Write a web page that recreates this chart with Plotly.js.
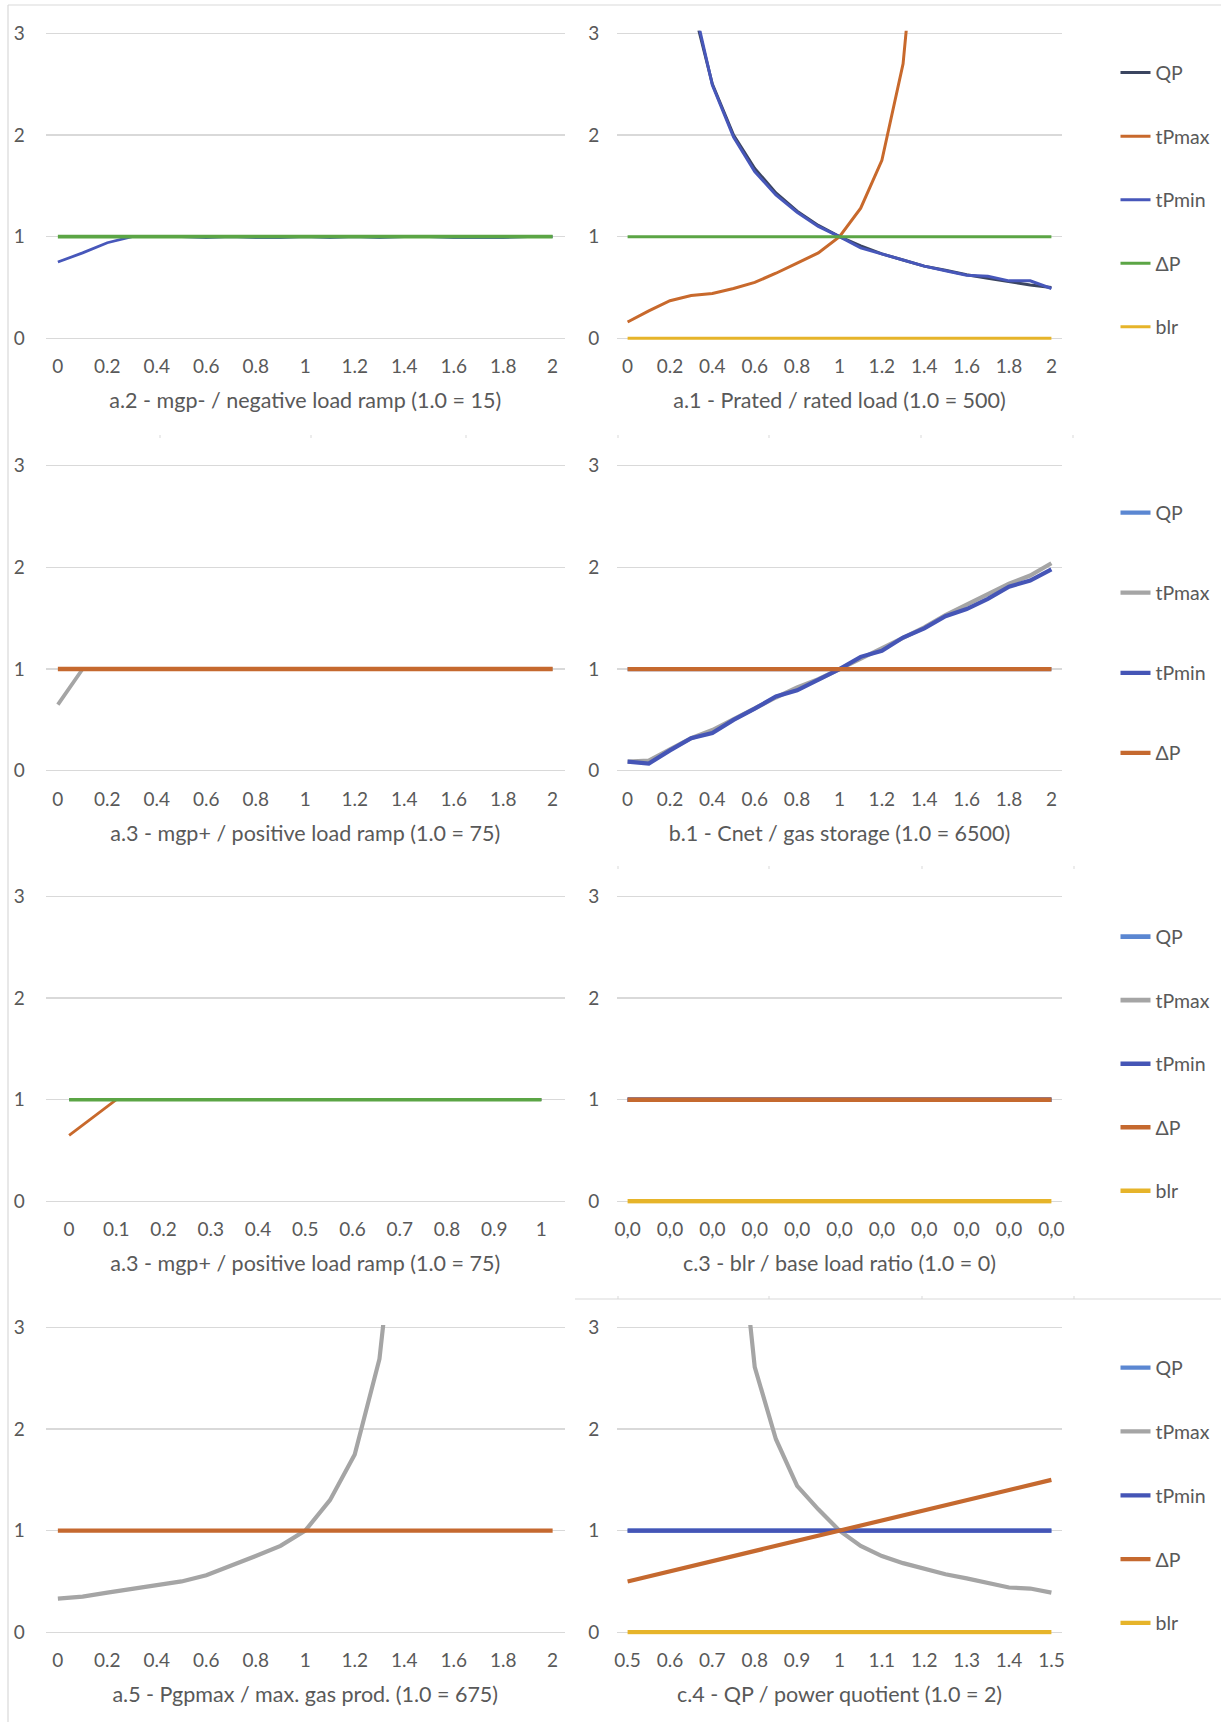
<!DOCTYPE html>
<html>
<head>
<meta charset="utf-8">
<script src="https://cdn.plot.ly/plotly-3.0.1.min.js"></script>
<style>html,body{margin:0;padding:0;background:#fff;}</style>
</head>
<body>
<div id="chart" style="width:1221px;height:1722px;"></div>
<script>
// ---------------- DATA ----------------
// categories
const x0to2 = [0, 0.1, 0.2, 0.3, 0.4, 0.5, 0.6, 0.7, 0.8, 0.9, 1, 1.1, 1.2, 1.3, 1.4, 1.5, 1.6, 1.7, 1.8, 1.9, 2];
const x0to1 = [0, 0.1, 0.2, 0.3, 0.4, 0.5, 0.6, 0.7, 0.8, 0.9, 1];
const xBlrIdx = [0, 1, 2, 3, 4, 5, 6, 7, 8, 9, 10, 11, 12, 13, 14, 15, 16, 17, 18, 19, 20];
const xQP = [0.5, 0.55, 0.6, 0.65, 0.7, 0.75, 0.8, 0.85, 0.9, 0.95, 1, 1.05, 1.1, 1.15, 1.2, 1.25, 1.3, 1.35, 1.4, 1.45, 1.5];

// tick labels
const ticks0to2 = [0, 0.2, 0.4, 0.6, 0.8, 1, 1.2, 1.4, 1.6, 1.8, 2];
const labels0to2 = ['0', '0.2', '0.4', '0.6', '0.8', '1', '1.2', '1.4', '1.6', '1.8', '2'];
const ticks0to1 = [0, 0.1, 0.2, 0.3, 0.4, 0.5, 0.6, 0.7, 0.8, 0.9, 1];
const labels0to1 = ['0', '0.1', '0.2', '0.3', '0.4', '0.5', '0.6', '0.7', '0.8', '0.9', '1'];
const ticksBlr = [0, 2, 4, 6, 8, 10, 12, 14, 16, 18, 20];
const labelsBlr = ['0,0', '0,0', '0,0', '0,0', '0,0', '0,0', '0,0', '0,0', '0,0', '0,0', '0,0'];
const ticksQP = [0.5, 0.6, 0.7, 0.8, 0.9, 1, 1.1, 1.2, 1.3, 1.4, 1.5];
const labelsQP = ['0.5', '0.6', '0.7', '0.8', '0.9', '1', '1.1', '1.2', '1.3', '1.4', '1.5'];
const yTicks = [0, 1, 2, 3];

// titles
const titleA2 = 'a.2 - mgp- / negative load ramp (1.0 = 15)';
const titleA1 = 'a.1 - Prated / rated load (1.0 = 500)';
const titleA3 = 'a.3 - mgp+ / positive load ramp (1.0 = 75)';
const titleB1 = 'b.1 - Cnet / gas storage (1.0 = 6500)';
const titleC3 = 'c.3 - blr / base load ratio (1.0 = 0)';
const titleA5 = 'a.5 - Pgpmax / max. gas prod. (1.0 = 675)';
const titleC4 = 'c.4 - QP / power quotient (1.0 = 2)';

// a.2 (top left)
const a2_tPmin = [0.75, 0.84, 0.94, 1.0, 1.0, 1.0, 0.99, 1.0, 0.99, 0.99, 1.0, 0.99, 1.0, 0.99, 1.0, 1.0, 0.99, 0.99, 0.99, 1.0, 1.0];
const a2_dP    = [1, 1, 1, 1, 1, 1, 1, 1, 1, 1, 1, 1, 1, 1, 1, 1, 1, 1, 1, 1, 1];

// a.1 (top right)
const a1_QP    = [null, null, null, 3.33, 2.5, 2.0, 1.67, 1.43, 1.25, 1.11, 1.0, 0.91, 0.83, 0.77, 0.71, 0.67, 0.625, 0.59, 0.555, 0.525, 0.5];
const a1_tPmax = [0.16, 0.27, 0.37, 0.42, 0.44, 0.49, 0.55, 0.64, 0.74, 0.84, 1.0, 1.28, 1.75, 2.70, 4.9, null, null, null, null, null, null];
const a1_tPmin = [null, null, null, 3.4, 2.49, 1.98, 1.64, 1.41, 1.24, 1.1, 1.0, 0.89, 0.83, 0.77, 0.71, 0.665, 0.62, 0.61, 0.565, 0.565, 0.49];
const a1_dP    = [1, 1, 1, 1, 1, 1, 1, 1, 1, 1, 1, 1, 1, 1, 1, 1, 1, 1, 1, 1, 1];
const a1_blr   = [0, 0, 0, 0, 0, 0, 0, 0, 0, 0, 0, 0, 0, 0, 0, 0, 0, 0, 0, 0, 0];

// a.3 (row 2 left)
const a3_tPmax = [0.65, 1, 1, 1, 1, 1, 1, 1, 1, 1, 1, 1, 1, 1, 1, 1, 1, 1, 1, 1, 1];
const a3_dP    = [1, 1, 1, 1, 1, 1, 1, 1, 1, 1, 1, 1, 1, 1, 1, 1, 1, 1, 1, 1, 1];

// b.1 (row 2 right)
const b1_QP    = [1, 1, 1, 1, 1, 1, 1, 1, 1, 1, 1, 1, 1, 1, 1, 1, 1, 1, 1, 1, 1];
const b1_tPmax = [0.09, 0.10, 0.21, 0.32, 0.40, 0.51, 0.61, 0.72, 0.82, 0.90, 1.0, 1.10, 1.21, 1.31, 1.41, 1.53, 1.63, 1.73, 1.84, 1.92, 2.04];
const b1_tPmin = [0.09, 0.07, 0.20, 0.32, 0.37, 0.50, 0.61, 0.73, 0.79, 0.89, 1.0, 1.12, 1.18, 1.31, 1.40, 1.52, 1.59, 1.69, 1.81, 1.87, 1.98];
const b1_dP    = [1, 1, 1, 1, 1, 1, 1, 1, 1, 1, 1, 1, 1, 1, 1, 1, 1, 1, 1, 1, 1];

// a.3 (row 3 left, 0..1)
const a3b_tPmax = [0.65, 1, 1, 1, 1, 1, 1, 1, 1, 1, 1];
const a3b_tPmin = [1, 1, 1, 1, 1, 1, 1, 1, 1, 1, 1];
const a3b_dP    = [1, 1, 1, 1, 1, 1, 1, 1, 1, 1, 1];

// c.3 (row 3 right)
const c3_QP    = [1, 1, 1, 1, 1, 1, 1, 1, 1, 1, 1, 1, 1, 1, 1, 1, 1, 1, 1, 1, 1];
const c3_tPmax = [1, 1, 1, 1, 1, 1, 1, 1, 1, 1, 1, 1, 1, 1, 1, 1, 1, 1, 1, 1, 1];
const c3_tPmin = [1, 1, 1, 1, 1, 1, 1, 1, 1, 1, 1, 1, 1, 1, 1, 1, 1, 1, 1, 1, 1];
const c3_dP    = [1, 1, 1, 1, 1, 1, 1, 1, 1, 1, 1, 1, 1, 1, 1, 1, 1, 1, 1, 1, 1];
const c3_blr   = [0, 0, 0, 0, 0, 0, 0, 0, 0, 0, 0, 0, 0, 0, 0, 0, 0, 0, 0, 0, 0];

// a.5 (row 4 left)
const a5_tPmax = [0.33, 0.35, 0.39, 0.43, 0.47, 0.50, 0.56, 0.65, 0.75, 0.85, 1.0, 1.30, 1.75, 2.69, 4.9, null, null, null, null, null, null];
const a5_dP    = [1, 1, 1, 1, 1, 1, 1, 1, 1, 1, 1, 1, 1, 1, 1, 1, 1, 1, 1, 1, 1];

// c.4 (row 4 right)
const c4_QP    = [1, 1, 1, 1, 1, 1, 1, 1, 1, 1, 1, 1, 1, 1, 1, 1, 1, 1, 1, 1, 1];
const c4_tPmax = [null, null, null, null, null, 4.6, 2.61, 1.90, 1.44, 1.21, 1.0, 0.85, 0.75, 0.68, 0.625, 0.57, 0.53, 0.49, 0.44, 0.43, 0.39];
const c4_tPmin = [1, 1, 1, 1, 1, 1, 1, 1, 1, 1, 1, 1, 1, 1, 1, 1, 1, 1, 1, 1, 1];
const c4_dP    = [0.5, 0.55, 0.6, 0.65, 0.7, 0.75, 0.8, 0.86, 0.9, 0.95, 1.0, 1.05, 1.1, 1.15, 1.2, 1.25, 1.3, 1.36, 1.4, 1.45, 1.5];
const c4_blr   = [0, 0, 0, 0, 0, 0, 0, 0, 0, 0, 0, 0, 0, 0, 0, 0, 0, 0, 0, 0, 0];

// ---------------- STYLE ----------------
const W = 1221, H = 1722;
const FONT = 'Lato, "Open Sans", sans-serif';
const TXT = '#595959';
const GRID = '#D9D9D9';
const TICKSIZE = 19, TITLESIZE = 21.5, LEGSIZE = 19.5;
const C1 = {QP: '#3B4560', tPmax: '#C8692C', tPmin: '#4757BA', dP: '#5BA545', blr: '#E6B42A'};
const C2 = {QP: '#5B87D2', tPmax: '#A5A5A5', tPmin: '#4555B6', dP: '#C5692F', blr: '#E6B42A'};

const LX = [45.5, 565], RX = [617, 1062];
const ROWS = [[33.3, 338.3], [465.7, 770.7], [896.5, 1201.3], [1327.5, 1632.2]];
const PAD = 0.025;

function xdom(px) { return [px[0] / W, px[1] / W]; }
function ydom(r) {
  const k = (r[1] - r[0]) / 3;
  const top = r[0] - PAD * k, bot = r[1] + PAD * k;
  return [1 - bot / H, 1 - top / H];
}

function tr(xa, ya, x, y, name, color, width, legend, show) {
  return {
    type: 'scatter', mode: 'lines', x: x, y: y, name: name,
    xaxis: xa, yaxis: ya,
    line: {color: color, width: width},
    legend: legend || 'legend', showlegend: !!show, legendgroup: (legend || 'l') + name,
    connectgaps: false, hoverinfo: 'skip'
  };
}

const data = [
  // a.2
  tr('x', 'y', x0to2, a2_tPmin, 'tPmin', C1.tPmin, 2.8),
  tr('x', 'y', x0to2, a2_dP, 'ΔP', C1.dP, 3.6),
  // a.1
  tr('x2', 'y2', x0to2, a1_QP, 'QP', C1.QP, 3, 'legend', true),
  tr('x2', 'y2', x0to2, a1_tPmax, 'tPmax', C1.tPmax, 3, 'legend', true),
  tr('x2', 'y2', x0to2, a1_tPmin, 'tPmin', C1.tPmin, 3, 'legend', true),
  tr('x2', 'y2', x0to2, a1_dP, 'ΔP', C1.dP, 3, 'legend', true),
  tr('x2', 'y2', x0to2, a1_blr, 'blr', C1.blr, 3, 'legend', true),
  // a.3 row 2
  tr('x3', 'y3', x0to2, a3_tPmax, 'tPmax', C2.tPmax, 3.8),
  tr('x3', 'y3', x0to2, a3_dP, 'ΔP', C2.dP, 4.5),
  // b.1
  tr('x4', 'y4', x0to2, b1_QP, 'QP', C2.QP, 4.2, 'legend2', true),
  tr('x4', 'y4', x0to2, b1_tPmax, 'tPmax', C2.tPmax, 4.2, 'legend2', true),
  tr('x4', 'y4', x0to2, b1_tPmin, 'tPmin', C2.tPmin, 4.2, 'legend2', true),
  tr('x4', 'y4', x0to2, b1_dP, 'ΔP', C2.dP, 4.2, 'legend2', true),
  // a.3 row 3
  tr('x5', 'y5', x0to1, a3b_tPmax, 'tPmax', C1.tPmax, 2.8),
  tr('x5', 'y5', x0to1, a3b_tPmin, 'tPmin', C2.QP, 2.8),
  tr('x5', 'y5', x0to1, a3b_dP, 'ΔP', C1.dP, 3.6),
  // c.3
  tr('x6', 'y6', xBlrIdx, c3_QP, 'QP', C2.QP, 4.6, 'legend3', true),
  tr('x6', 'y6', xBlrIdx, c3_tPmax, 'tPmax', C2.tPmax, 4.6, 'legend3', true),
  tr('x6', 'y6', xBlrIdx, c3_tPmin, 'tPmin', C2.tPmin, 4.6, 'legend3', true),
  tr('x6', 'y6', xBlrIdx, c3_dP, 'ΔP', C2.dP, 4.6, 'legend3', true),
  tr('x6', 'y6', xBlrIdx, c3_blr, 'blr', C2.blr, 4.6, 'legend3', true),
  // a.5
  tr('x7', 'y7', x0to2, a5_tPmax, 'tPmax', C2.tPmax, 4.2),
  tr('x7', 'y7', x0to2, a5_dP, 'ΔP', C2.dP, 4.4),
  // c.4
  tr('x8', 'y8', xQP, c4_QP, 'QP', C2.QP, 4.2, 'legend4', true),
  tr('x8', 'y8', xQP, c4_tPmax, 'tPmax', C2.tPmax, 4.2, 'legend4', true),
  tr('x8', 'y8', xQP, c4_tPmin, 'tPmin', C2.tPmin, 4.2, 'legend4', true),
  tr('x8', 'y8', xQP, c4_dP, 'ΔP', C2.dP, 4.2, 'legend4', true),
  tr('x8', 'y8', xQP, c4_blr, 'blr', C2.blr, 4.2, 'legend4', true)
];

function xAx(dom, anchor, range, tv, tt, title) {
  return {
    domain: xdom(dom), anchor: anchor, range: range,
    tickmode: 'array', tickvals: tv, ticktext: tt,
    showgrid: false, zeroline: false, showline: false,
    ticks: 'outside', ticklen: 8.5, tickcolor: 'rgba(0,0,0,0)',
    tickfont: {family: FONT, size: TICKSIZE, color: TXT},
    title: {text: title, font: {family: FONT, size: TITLESIZE, color: TXT}, standoff: 16.5},
    fixedrange: true
  };
}
function yAx(row, anchor, left) {
  return {
    domain: ydom(row), anchor: anchor, range: [-PAD, 3 + PAD],
    tickmode: 'array', tickvals: yTicks,
    showgrid: true, gridcolor: GRID, gridwidth: 1.3,
    zeroline: false, showline: false,
    ticks: 'outside', ticklen: left ? 16 : 13, tickcolor: 'rgba(0,0,0,0)',
    tickfont: {family: FONT, size: TICKSIZE, color: TXT},
    fixedrange: true
  };
}

function legendAt(topPx, gap) {
  return {
    x: 1115.5 / W, xanchor: 'left', y: 1 - topPx / H, yanchor: 'top',
    orientation: 'v', bgcolor: 'rgba(0,0,0,0)', borderwidth: 0,
    font: {family: FONT, size: LEGSIZE, color: TXT},
    tracegroupgap: gap, itemwidth: 30, itemclick: false, itemdoubleclick: false
  };
}

const shapes = [
  {type: 'line', xref: 'paper', yref: 'paper', x0: 8 / W, x1: 1, y0: 1 - 5 / H, y1: 1 - 5 / H, line: {color: GRID, width: 1.2}},
  {type: 'line', xref: 'paper', yref: 'paper', x0: 8 / W, x1: 8 / W, y0: 0, y1: 1 - 5 / H, line: {color: GRID, width: 1.2}},
  {type: 'line', xref: 'paper', yref: 'paper', x0: 575 / W, x1: 1, y0: 1 - 1299 / H, y1: 1 - 1299 / H, line: {color: GRID, width: 1.2}}
];
// faint leftover tick marks between the stacked charts
const markX1 = [160, 311, 466, 618, 769, 921, 1073];
const markX2 = [618, 769, 922, 1074];
markX1.forEach(function (px) {
  shapes.push({type: 'line', xref: 'paper', yref: 'paper', x0: px / W, x1: px / W, y0: 1 - 438 / H, y1: 1 - 435 / H, line: {color: GRID, width: 1}});
});
markX2.forEach(function (px) {
  shapes.push({type: 'line', xref: 'paper', yref: 'paper', x0: px / W, x1: px / W, y0: 1 - 869 / H, y1: 1 - 866 / H, line: {color: GRID, width: 1}});
  shapes.push({type: 'line', xref: 'paper', yref: 'paper', x0: px / W, x1: px / W, y0: 1 - 1299 / H, y1: 1 - 1296 / H, line: {color: GRID, width: 1}});
});

const layout = {
  width: W, height: H,
  margin: {l: 0, r: 0, t: 0, b: 0},
  paper_bgcolor: '#ffffff', plot_bgcolor: '#ffffff',
  font: {family: FONT, size: TICKSIZE, color: TXT},
  showlegend: true,
  hovermode: false,
  xaxis:  xAx(LX, 'y',  [-0.05, 2.05], ticks0to2, labels0to2, titleA2),
  yaxis:  yAx(ROWS[0], 'x', true),
  xaxis2: xAx(RX, 'y2', [-0.05, 2.05], ticks0to2, labels0to2, titleA1),
  yaxis2: yAx(ROWS[0], 'x2', false),
  xaxis3: xAx(LX, 'y3', [-0.05, 2.05], ticks0to2, labels0to2, titleA3),
  yaxis3: yAx(ROWS[1], 'x3', true),
  xaxis4: xAx(RX, 'y4', [-0.05, 2.05], ticks0to2, labels0to2, titleB1),
  yaxis4: yAx(ROWS[1], 'x4', false),
  xaxis5: xAx(LX, 'y5', [-0.05, 1.05], ticks0to1, labels0to1, titleA3),
  yaxis5: yAx(ROWS[2], 'x5', true),
  xaxis6: xAx(RX, 'y6', [-0.5, 20.5], ticksBlr, labelsBlr, titleC3),
  yaxis6: yAx(ROWS[2], 'x6', false),
  xaxis7: xAx(LX, 'y7', [-0.05, 2.05], ticks0to2, labels0to2, titleA5),
  yaxis7: yAx(ROWS[3], 'x7', true),
  xaxis8: xAx(RX, 'y8', [0.475, 1.525], ticksQP, labelsQP, titleC4),
  yaxis8: yAx(ROWS[3], 'x8', false),
  legend:  legendAt(53.4, 35.2),
  legend2: legendAt(493.4, 51.75),
  legend3: legendAt(917.4, 35.2),
  legend4: legendAt(1348.5, 35.45),
  shapes: shapes
};

Plotly.newPlot('chart', data, layout, {staticPlot: true, displayModeBar: false});
</script>
</body>
</html>
